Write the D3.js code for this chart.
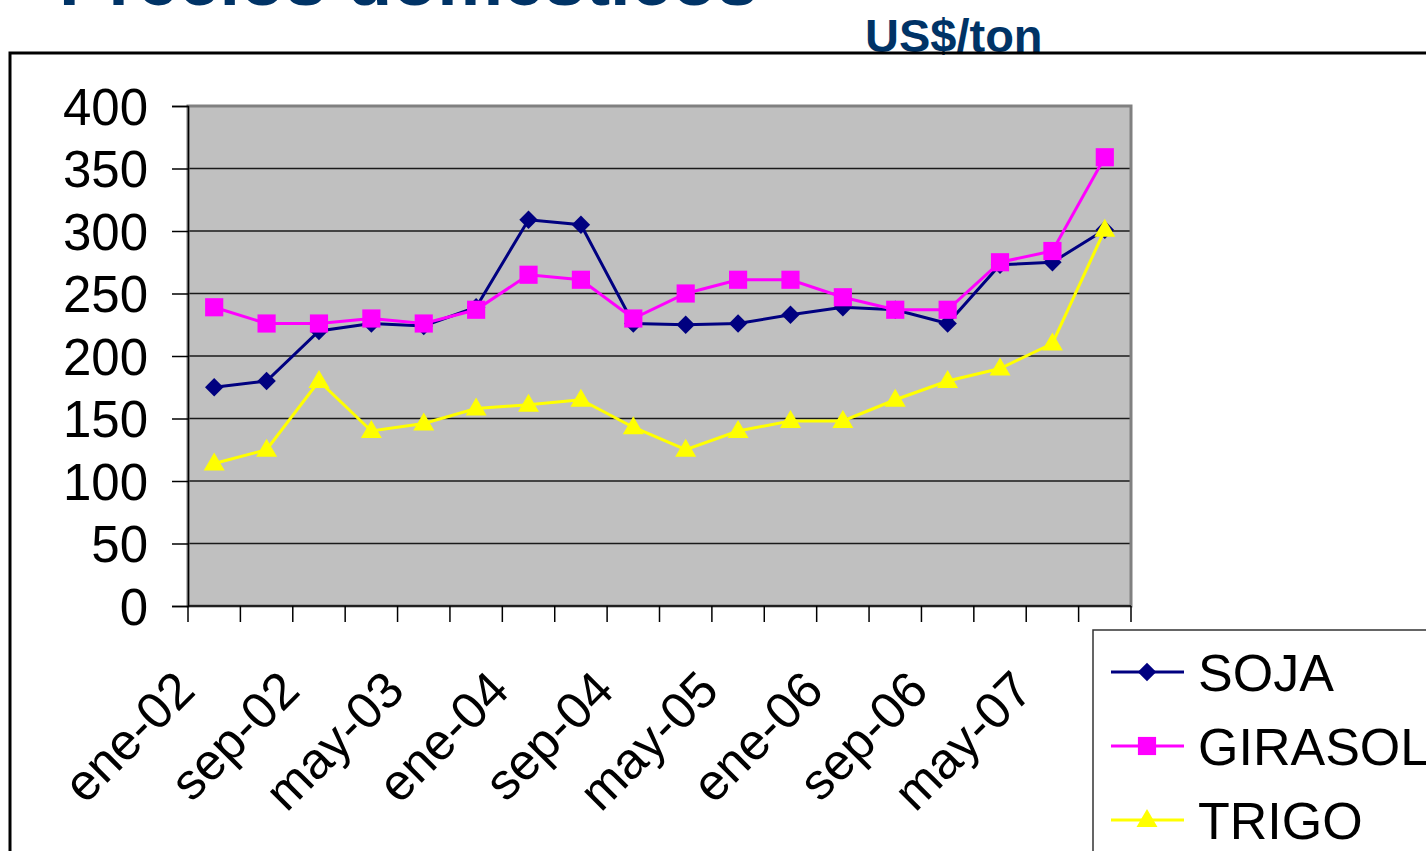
<!DOCTYPE html>
<html>
<head>
<meta charset="utf-8">
<style>
  body { margin: 0; background: #fff; }
  svg { display: block; font-family: Arial, "Liberation Sans", sans-serif; }
</style>
<script src="https://d3js.org/d3.v7.min.js"></script>
</head>
<body>
<svg width="1426" height="851"></svg>
<script>
    // categories: every 4 months, ene-02 .. sep-07
    var periodos = ["ene-02", "may-02", "sep-02", "ene-03", "may-03", "sep-03",
        "ene-04", "may-04", "sep-04", "ene-05", "may-05", "sep-05",
        "ene-06", "may-06", "sep-06", "ene-07", "may-07", "sep-07"];
    var soja = [175, 180, 220, 226, 224, 239, 309, 305, 226, 225, 226, 233, 239, 237, 226, 273, 275, 301];
    var girasol = [239, 226, 226, 230, 226, 237, 265, 261, 230, 250, 261, 261, 247, 237, 237, 275, 284, 359];
    var trigo = [114, 125, 180, 140, 146, 158, 161, 165, 143, 125, 140, 148, 148, 165, 180, 190, 210, 301];
    var yTicks = [0, 50, 100, 150, 200, 250, 300, 350, 400];

    var svg = d3.select("svg");

    // title, mostly cut at the top of the picture
    svg.append("text")
        .attr("x", 59)
        .attr("y", 5)
        .attr("font-size", "74px")
        .attr("font-weight", "bold")
        .attr("fill", "#003366")
        .text("Precios domésticos");

    svg.append("text")
        .attr("x", 865)
        .attr("y", 52)
        .attr("font-size", "47px")
        .attr("font-weight", "bold")
        .attr("fill", "#003366")
        .text("US$/ton");

    // outer frame
    svg.append("rect")
        .attr("x", 10).attr("y", 53)
        .attr("width", 1440).attr("height", 820)
        .attr("fill", "none")
        .attr("stroke", "#000")
        .attr("stroke-width", 3);

    var x = d3.scaleBand().domain(periodos).range([188, 1131]);
    var y = d3.scaleLinear().domain([0, 400]).range([606, 106]);

    // plot area
    svg.append("rect")
        .attr("x", 188).attr("y", 106)
        .attr("width", 1131 - 188).attr("height", 500)
        .attr("fill", "#c0c0c0");

    svg.append("g")
        .selectAll("line")
        .data(yTicks.filter(function (d) { return d > 0; }))
        .enter().append("line")
        .attr("x1", 188).attr("x2", 1131)
        .attr("y1", function (d) { return y(d); })
        .attr("y2", function (d) { return y(d); })
        .attr("stroke", "#1a1a1a")
        .attr("stroke-width", 1.5);

    svg.append("rect")
        .attr("x", 188).attr("y", 106)
        .attr("width", 1131 - 188).attr("height", 500)
        .attr("fill", "none")
        .attr("stroke", "#808080")
        .attr("stroke-width", 3);

    // y axis
    var yAxis = svg.append("g")
        .attr("transform", "translate(188,0)")
        .call(d3.axisLeft(y).tickValues(yTicks).tickSize(16).tickPadding(24));
    yAxis.select(".domain").attr("stroke", "#000").attr("stroke-width", 1.5);
    yAxis.selectAll(".tick line").attr("stroke", "#000").attr("stroke-width", 1.5);
    yAxis.selectAll("text")
        .attr("font-size", "51px")
        .attr("font-family", "Arial, 'Liberation Sans', sans-serif")
        .attr("fill", "#000")
        .attr("dy", "0.36em");

    // x axis: ticks between categories
    var xg = svg.append("g");
    xg.append("line")
        .attr("x1", 188).attr("x2", 1131)
        .attr("y1", 606).attr("y2", 606)
        .attr("stroke", "#000").attr("stroke-width", 1.5);
    var bounds = periodos.map(function (d) { return x(d); }).concat([x.range()[1]]);
    xg.selectAll(".xt")
        .data(bounds)
        .enter().append("line")
        .attr("class", "xt")
        .attr("x1", function (d) { return d; })
        .attr("x2", function (d) { return d; })
        .attr("y1", 606).attr("y2", 622)
        .attr("stroke", "#000").attr("stroke-width", 1.5);
    xg.selectAll(".xl")
        .data(periodos.filter(function (d, i) { return i % 2 === 0; }))
        .enter().append("text")
        .attr("class", "xl")
        .attr("transform", function (d) {
            var cx = x(d) + x.bandwidth() / 2 - 17;
            return "translate(" + cx + ",693) rotate(-45)";
        })
        .attr("text-anchor", "end")
        .attr("font-size", "51px")
        .attr("fill", "#000")
        .text(function (d) { return d; });

    // series
    var diamond = {
        draw: function (ctx, size) {
            var r = Math.sqrt(size / 2);
            ctx.moveTo(0, -r); ctx.lineTo(r, 0); ctx.lineTo(0, r); ctx.lineTo(-r, 0); ctx.closePath();
        }
    };
    var series = [
        { name: "SOJA", values: soja, color: "#000080", symbol: diamond, size: 170, dy: 0 },
        { name: "GIRASOL", values: girasol, color: "#ff00ff", symbol: d3.symbolSquare, size: 330, dy: 0 },
        { name: "TRIGO", values: trigo, color: "#ffff00", symbol: d3.symbolTriangle, size: 190, dy: 1 }
    ];

    var line = d3.line()
        .x(function (d, i) { return x(periodos[i]) + x.bandwidth() / 2; })
        .y(function (d) { return y(d); });

    series.forEach(function (s) {
        var g = svg.append("g");
        g.append("path")
            .attr("d", line(s.values))
            .attr("fill", "none")
            .attr("stroke", s.color)
            .attr("stroke-width", 3);
        g.selectAll("path.m")
            .data(s.values)
            .enter().append("path")
            .attr("class", "m")
            .attr("d", d3.symbol().type(s.symbol).size(s.size))
            .attr("transform", function (d, i) {
                var dx = x(periodos[i]) + x.bandwidth() / 2;
                return "translate(" + dx + "," + (y(d) + s.dy) + ")";
            })
            .attr("fill", s.color);
    });

    // legend
    var lg = svg.append("g");
    lg.append("rect")
        .attr("x", 1093).attr("y", 630)
        .attr("width", 400).attr("height", 300)
        .attr("fill", "#fff")
        .attr("stroke", "#333")
        .attr("stroke-width", 1.5);
    var rows = [672, 746, 820];
    series.forEach(function (s, i) {
        lg.append("line")
            .attr("x1", 1111).attr("x2", 1184)
            .attr("y1", rows[i]).attr("y2", rows[i])
            .attr("stroke", s.color).attr("stroke-width", 3);
        lg.append("path")
            .attr("d", d3.symbol().type(s.symbol).size(s.size))
            .attr("transform", "translate(1147," + (rows[i] + s.dy) + ")")
            .attr("fill", s.color);
        lg.append("text")
            .attr("x", 1198)
            .attr("y", rows[i])
            .attr("dy", "0.36em")
            .attr("font-size", "52px")
            .attr("fill", "#000")
            .text(s.name);
    });
</script>
</body>
</html>
